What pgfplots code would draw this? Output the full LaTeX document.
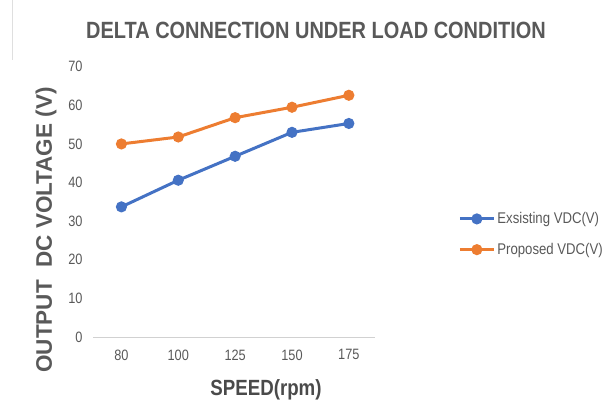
\documentclass[border=0pt]{standalone}
\usepackage{pgfplots}
\pgfplotsset{compat=1.18}
\usepackage{fontspec}
\setmainfont{Liberation Sans}
\newfontfamily\condensed[FakeStretch=0.85]{Liberation Sans}
\definecolor{txt}{HTML}{595959}
\definecolor{lab}{HTML}{4A4A4A}
\definecolor{cblue}{HTML}{4472C4}
\definecolor{corange}{HTML}{ED7D31}
\begin{document}
\begin{tikzpicture}
\useasboundingbox (0,0) rectangle (608pt,405pt);
\draw[gray!25, line width=1pt] (12pt,405pt) -- (12pt,345pt);
\begin{axis}[
  at={(93pt,68pt)}, anchor=south west,
  scale only axis, width=282pt, height=270.3pt,
  xmin=-0.5, xmax=4.46, ymin=0, ymax=70,
  xtick={0,1,2,3,4}, xticklabels={80,100,125,150,175},
  ytick={0,10,20,30,40,50,60,70},
  axis lines*=left,
  y axis line style={draw=none},
  x axis line style={draw=black!18, line width=0.8pt},
  major tick length=0pt,
  tick style={draw=none},
  /pgf/number format/assume math mode=true,
  ticklabel style={font=\condensed\fontsize{15}{18}\selectfont, text=txt},
  xticklabel style={yshift=-9pt},
  yticklabel style={xshift=-7pt},
  legend style={draw=none, fill=none, at={(1.295,0.38)}, anchor=west,
    font=\condensed\fontsize{15.5}{18}\selectfont, text=txt, row sep=14pt,
    inner sep=0pt},
  legend cell align=left,
  legend image code/.code={
    \draw[mark repeat=2,mark phase=2,#1] plot coordinates {(0pt,0pt) (17pt,0pt) (34pt,0pt)};},
]
\addplot[color=cblue, line width=3pt, mark=*, mark size=4pt] coordinates {
  (0,33.7) (1,40.6) (2,46.8) (3,53.0) (4,55.3)};
\addlegendentry{Exsisting VDC(V)}
\addplot[color=corange, line width=3pt, mark=*, mark size=4pt] coordinates {
  (0,50.0) (1,51.8) (2,56.8) (3,59.5) (4,62.6)};
\addlegendentry{Proposed VDC(V)}
\end{axis}
\node[text=txt, font=\condensed\bfseries\fontsize{23.5}{26}\selectfont] at (316pt,375pt) {DELTA CONNECTION UNDER LOAD CONDITION};
\node[text=txt, rotate=90, font=\bfseries\fontsize{22.5}{26}\selectfont] at (46pt,175pt) {OUTPUT\ \ DC VOLTAGE (V)};
\node[text=lab, font=\condensed\bfseries\fontsize{22}{26}\selectfont] at (266pt,15pt) {SPEED(rpm)};
\end{tikzpicture}
\end{document}
